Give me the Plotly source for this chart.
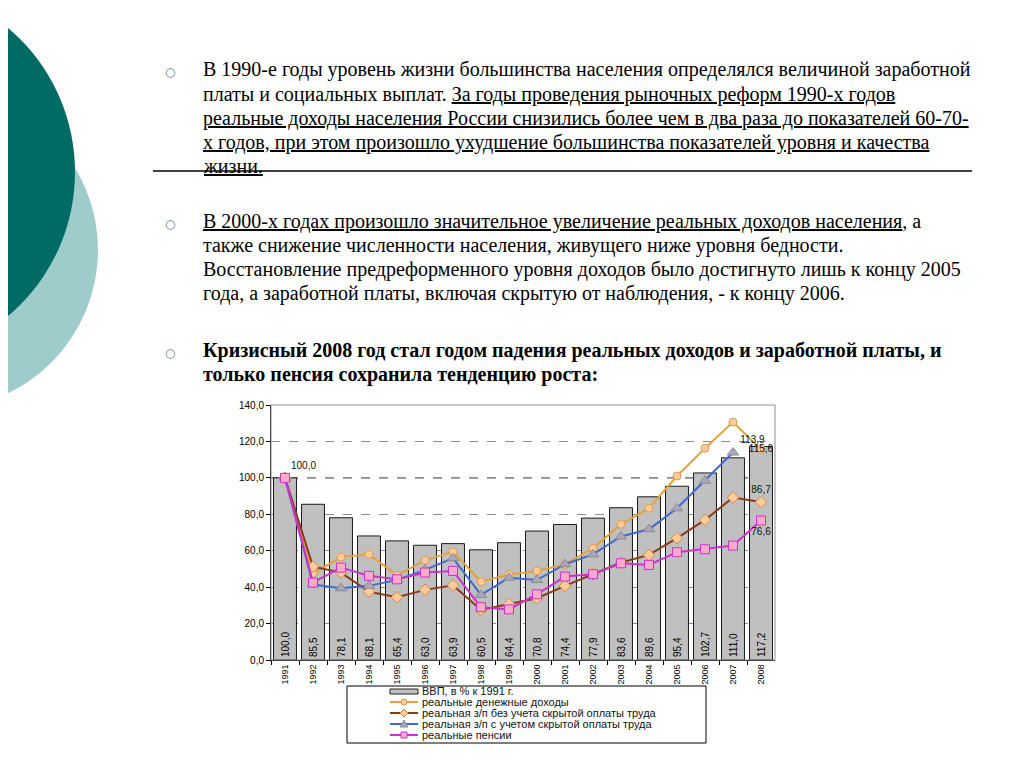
import plotly.graph_objects as go

# ---------------- data ----------------
years = ["1991", "1992", "1993", "1994", "1995", "1996", "1997", "1998", "1999",
         "2000", "2001", "2002", "2003", "2004", "2005", "2006", "2007", "2008"]
gdp = [100.0, 85.5, 78.1, 68.1, 65.4, 63.0, 63.9, 60.5, 64.4,
       70.8, 74.4, 77.9, 83.6, 89.6, 95.4, 102.7, 111.0, 117.2]
money_income = [100.0, 47.5, 56.5, 58.0, 46.5, 54.7, 59.5, 43.0, 47.0,
                48.9, 52.5, 61.3, 74.5, 83.3, 101.0, 116.3, 130.6, 115.6]
wage_official = [100.0, 51.3, 48.0, 37.5, 34.4, 38.5, 41.0, 27.5, 30.7,
                 33.9, 40.7, 47.1, 53.5, 57.7, 66.9, 76.9, 89.2, 86.7]
wage_total = [100.0, 41.5, 39.4, 40.7, 44.0, 49.5, 55.9, 35.7, 45.2,
              43.9, 52.6, 58.0, 67.8, 71.8, 83.3, 98.4, 113.9, None]
pensions = [100.0, 42.5, 50.7, 46.2, 44.3, 48.0, 48.9, 29.0, 27.8,
            36.1, 45.8, 47.1, 53.1, 52.2, 59.2, 60.8, 62.8, 76.6]

series_names = ["ВВП, в % к 1991 г.",
                "реальные денежные доходы",
                "реальная з/п без учета скрытой оплаты труда",
                "реальная з/п с учетом скрытой оплаты труда",
                "реальные пенсии"]

y_ticks = [0, 20, 40, 60, 80, 100, 120, 140]

# points carrying data labels: (index, position)
label_points = {
    "money": [(0, "top right"), (17, "middle center")],
    "official": [(17, "top center")],
    "total": [(16, "top right")],
    "pensions": [(17, "bottom center")],
}

# ---------------- styles ----------------
# the page body has an 8px margin: the figure is 1008x752 so the page is 1024x768
OFF = 8
W, H = 1024 - 2 * OFF, 768 - 2 * OFF
SERIF = "Liberation Serif"
SANS = "Liberation Sans"
C_ORANGE = "#E2A23C"
C_BROWN = "#8B3A1A"
C_BLUE = "#4169D0"
C_PINK = "#CC33CC"
F_PEACH = "#FFCC99"
F_TRI = "#A8A8B8"
F_SQ = "#FFAACC"


def X(px):
    return (px - OFF) / W


def Y(py):
    return 1 - (py - OFF) / H


def fmt(v):
    return f"{v:.1f}".replace(".", ",")


def labels_for(values, key):
    txt = [""] * len(values)
    pos = ["top center"] * len(values)
    for i, p in label_points[key]:
        txt[i] = fmt(values[i])
        pos[i] = p
    return txt, pos


fig = go.Figure()

fig.add_trace(go.Bar(
    x=years, y=gdp, name=series_names[0],
    marker=dict(color="#C0C0C0", line=dict(color="#1A1A1A", width=1)),
    text=[fmt(v) for v in gdp], textposition="inside", insidetextanchor="start",
    textangle=-90, textfont=dict(family=SANS, size=10, color="black"),
    showlegend=False,
))


def add_line(values, key, name, lc, sym, fill, outline, size):
    txt, pos = labels_for(values, key)
    fig.add_trace(go.Scatter(
        x=years, y=values, name=name, mode="lines+markers+text",
        line=dict(color=lc, width=2),
        marker=dict(symbol=sym, size=size, color=fill, line=dict(color=outline, width=1)),
        text=txt, textposition=pos, textfont=dict(family=SANS, size=10, color="#111"),
        cliponaxis=False, connectgaps=False, showlegend=False,
    ))


add_line(money_income, "money", series_names[1], C_ORANGE, "circle", F_PEACH, "#E09A50", 8)
add_line(wage_official, "official", series_names[2], C_BROWN, "diamond", F_PEACH, "#D08A50", 9)
add_line(wage_total, "total", series_names[3], C_BLUE, "triangle-up", F_TRI, "#8A8A9A", 10)
add_line(pensions, "pensions", series_names[4], C_PINK, "square", F_SQ, C_PINK, 9)

shapes = []
annotations = []

# decorative circles on the slide
shapes.append(dict(type="circle", xref="paper", yref="paper",
                   x0=X(-220), x1=X(98), y0=Y(91), y1=Y(409),
                   fillcolor="#9DCCCB", line=dict(width=0), layer="below"))
shapes.append(dict(type="circle", xref="paper", yref="paper",
                   x0=X(-300), x1=X(75), y0=Y(-16), y1=Y(360),
                   fillcolor="#006B64", line=dict(width=0), layer="below"))

# horizontal rule
shapes.append(dict(type="line", xref="paper", yref="paper",
                   x0=X(153), x1=X(972), y0=Y(171), y1=Y(171),
                   line=dict(color="black", width=1.5)))

# slide text
text_lines = [
    (72, "В 1990-е годы уровень жизни большинства населения определялся величиной заработной"),
    (96, "платы и социальных выплат. <u>За годы проведения рыночных реформ 1990-х годов</u>"),
    (120, "<u>реальные доходы населения России снизились более чем в два раза до показателей 60-70-</u>"),
    (144, "<u>х годов, при этом произошло ухудшение большинства показателей уровня и качества</u>"),
    (168, "<u>жизни.</u>"),
    (224, "<u>В 2000-х годах произошло значительное увеличение реальных доходов населения</u>, а"),
    (248, "также снижение численности населения, живущего ниже уровня бедности."),
    (272, "Восстановление предреформенного уровня доходов было достигнуто лишь к концу 2005"),
    (296, "года, а заработной платы, включая скрытую от наблюдения, - к концу 2006."),
    (353, "<b>Кризисный 2008 год стал годом падения реальных доходов и заработной платы, и</b>"),
    (377, "<b>только пенсия сохранила тенденцию роста:</b>"),
]
for py, t in text_lines:
    annotations.append(dict(xref="paper", yref="paper", x=X(201), y=Y(py - 2),
                            xanchor="left", yanchor="middle", showarrow=False,
                            text=t, font=dict(family=SERIF, size=20, color="black")))
for py in (72, 224, 353):
    annotations.append(dict(xref="paper", yref="paper", x=X(170), y=Y(py),
                            xanchor="center", yanchor="middle", showarrow=False,
                            text="○", font=dict(family="DejaVu Sans", size=12, color="#4F7F7F")))

# plot-area frame (grey) and 100 reference line
shapes.append(dict(type="rect", xref="paper", yref="paper",
                   x0=X(271), x1=X(775), y0=Y(660), y1=Y(405),
                   line=dict(color="#909090", width=1), layer="above"))
shapes.append(dict(type="line", xref="paper", yref="y", x0=X(271), x1=X(775),
                   y0=100, y1=100, line=dict(color="#111", width=1, dash="dash"),
                   layer="below"))

# manual legend
lg_left, lg_top, lg_right, lg_bottom = 347, 686, 706, 743
shapes.append(dict(type="rect", xref="paper", yref="paper",
                   x0=X(lg_left), x1=X(lg_right), y0=Y(lg_bottom), y1=Y(lg_top),
                   line=dict(color="black", width=1), fillcolor="white", layer="above"))
rows = [691, 702, 713, 724, 735]
sx0, sx1, sxm = 390, 418, 404
shapes.append(dict(type="rect", xref="paper", yref="paper",
                   x0=X(sx0), x1=X(sx1), y0=Y(rows[0] + 3), y1=Y(rows[0] - 2),
                   fillcolor="#C0C0C0", line=dict(color="#222", width=1), layer="above"))
legend_style = [
    (C_ORANGE, "circle", F_PEACH, "#E09A50"),
    (C_BROWN, "diamond", F_PEACH, "#D08A50"),
    (C_BLUE, "triangle", F_TRI, "#8A8A9A"),
    (C_PINK, "square", F_SQ, C_PINK),
]
for (lc, sym, fill, outl), py in zip(legend_style, rows[1:]):
    shapes.append(dict(type="line", xref="paper", yref="paper",
                       x0=X(sx0), x1=X(sx1), y0=Y(py), y1=Y(py),
                       line=dict(color=lc, width=2), layer="above"))
    r = 3
    if sym == "circle":
        shapes.append(dict(type="circle", xref="paper", yref="paper",
                           x0=X(sxm - r), x1=X(sxm + r), y0=Y(py + r), y1=Y(py - r),
                           fillcolor=fill, line=dict(color=outl, width=1), layer="above"))
    elif sym == "square":
        shapes.append(dict(type="rect", xref="paper", yref="paper",
                           x0=X(sxm - r), x1=X(sxm + r), y0=Y(py + r), y1=Y(py - r),
                           fillcolor=fill, line=dict(color=outl, width=1), layer="above"))
    elif sym == "diamond":
        path = (f"M {X(sxm)} {Y(py - r - 1)} L {X(sxm + r + 1)} {Y(py)} "
                f"L {X(sxm)} {Y(py + r + 1)} L {X(sxm - r - 1)} {Y(py)} Z")
        shapes.append(dict(type="path", xref="paper", yref="paper", path=path,
                           fillcolor=fill, line=dict(color=outl, width=1), layer="above"))
    else:
        path = (f"M {X(sxm)} {Y(py - r - 1)} L {X(sxm + r + 1)} {Y(py + r)} "
                f"L {X(sxm - r - 1)} {Y(py + r)} Z")
        shapes.append(dict(type="path", xref="paper", yref="paper", path=path,
                           fillcolor=fill, line=dict(color=outl, width=1), layer="above"))
for name, py in zip(series_names, rows):
    annotations.append(dict(xref="paper", yref="paper", x=X(420), y=Y(py),
                            xanchor="left", yanchor="middle", showarrow=False,
                            text=name, font=dict(family=SANS, size=11, color="#111")))

fig.update_layout(
    width=W, height=H, autosize=False,
    margin=dict(l=0, r=0, t=0, b=0),
    paper_bgcolor="white", plot_bgcolor="rgba(0,0,0,0)",
    separators=", ",
    bargap=0.18,
    showlegend=False,
    shapes=shapes, annotations=annotations,
    xaxis=dict(domain=[X(271), X(775)], type="category", range=[-0.5, 17.5],
               autorange=False, automargin=False,
               tickangle=-90, tickfont=dict(family=SANS, size=9, color="black"),
               showline=True, linecolor="black", linewidth=1,
               ticks="outside", tickson="boundaries", ticklen=4, tickcolor="black",
               showgrid=False, fixedrange=True),
    yaxis=dict(domain=[Y(660), Y(405)], range=[0, 140], autorange=False,
               automargin=False, tickvals=y_ticks,
               tickformat=".1f", tickfont=dict(family=SANS, size=10, color="black"),
               showline=True, linecolor="black", linewidth=1,
               ticks="outside", ticklen=4, tickcolor="black",
               showgrid=True, gridcolor="#8C8C8C", gridwidth=1, griddash="dash",
               zeroline=False, fixedrange=True),
)

fig.write_html("out.html")
